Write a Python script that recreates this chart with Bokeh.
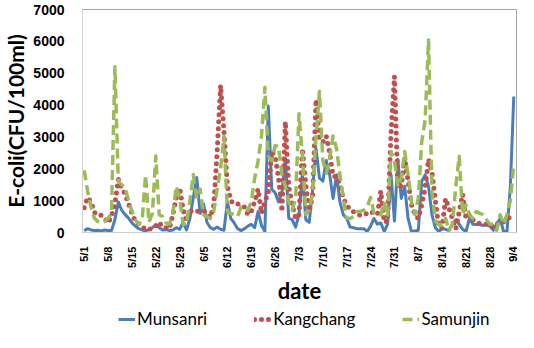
import numpy as np
from bokeh.plotting import figure
from bokeh.layouts import column
from bokeh.models import Range1d, Legend, LegendItem, FixedTicker
from bokeh.embed import file_html
from bokeh.resources import INLINE

# daily samples from 5/1 to 9/4 (day 0 = 5/1)
days = list(range(127))
tick_days = [0, 7, 14, 21, 28, 35, 42, 49, 56, 63, 70, 77, 84, 91, 98, 105, 112, 119, 126]
tick_labels = ["5/1", "5/8", "5/15", "5/22", "5/29", "6/5", "6/12", "6/19", "6/26", "7/3",
               "7/10", "7/17", "7/24", "7/31", "8/7", "8/14", "8/21", "8/28", "9/4"]
series_names = ["Munsanri", "Kangchang", "Samunjin"]

munsanri = [60, 120, 80, 60, 70, 50, 80, 60, 60, 400,
            960, 700, 560, 450, 300, 200, 120, 80, 50, 90,
            150, 250, 150, 80, 90, 60, 80, 150, 100, 320,
            80, 440, 1100, 1730, 600, 900, 320, 150, 100, 170,
            100, 70, 960, 440, 300, 120, 60, 120, 200, 260,
            150, 660, 220, 30, 3970, 1360, 1250, 960, 1260, 2340,
            450, 400, 170, 560, 1810, 400, 320, 1360, 2640, 1710,
            1610, 2260, 1810, 1070, 1810, 960, 560, 440, 170, 150,
            120, 120, 120, 30, 200, 440, 260, 300, 30, 260,
            1810, 360, 2300, 1070, 1450, 440, 30, 50, 70, 1610,
            1810, 1450, 560, 150, 30, 120, 100, 60, 260, 400,
            260, 100, 30, 440, 260, 250, 250, 220, 250, 200,
            70, 260, 440, 30, 30, 1450, 4270]

kangchang = [780, 1100, 960, 630, 540, 540, 440, 300, 500, 900,
             1670, 1400, 1200, 900, 600, 350, 260, 200, 90, 100,
             120, 200, 320, 170, 150, 120, 560, 1100, 1400, 730,
             360, 660, 700, 660, 680, 690, 600, 470, 860, 2540,
             4620, 3180, 1460, 1000, 900, 900, 850, 800, 560, 660,
             960, 1360, 600, 960, 1260, 2540, 2400, 1700, 660, 3480,
             1450, 870, 440, 560, 2640, 1500, 660, 1160, 4170, 2930,
             2840, 3030, 2500, 1760, 1760, 1520, 1070, 870, 710, 650,
             600, 530, 550, 600, 660, 600, 560, 1300, 320, 360,
             3130, 4900, 1450, 1450, 2340, 1610, 870, 560, 440, 870,
             1400, 2300, 1900, 1000, 170, 150, 1070, 760, 440, 120,
             660, 1200, 440, 560, 400, 320, 280, 260, 260, 260,
             170, 250, 360, 330, 400, 500, 560]

samunjin = [1950, 1300, 800, 450, 350, 300, 350, 450, 600, 5200,
            1600, 1500, 1400, 1000, 660, 400, 250, 400, 1800, 320,
            600, 2400, 560, 500, 300, 260, 600, 1450, 1070, 260,
            260, 1000, 1820, 1070, 1360, 560, 500, 440, 660, 1360,
            2000, 3030, 660, 600, 560, 500, 800, 750, 700, 960,
            1700, 2250, 3030, 4560, 2400, 2250, 2730, 2700, 1810, 1450,
            960, 710, 1070, 3730, 2440, 560, 700, 1260, 3030, 4430,
            2260, 1860, 2340, 3030, 2640, 1810, 1070, 440, 440, 500,
            660, 660, 700, 800, 1100, 600, 560, 560, 960, 500,
            2540, 2250, 1450, 1710, 2540, 1810, 960, 560, 1070, 2840,
            3530, 6040, 1260, 360, 250, 220, 440, 70, 260, 1450,
            2390, 560, 870, 560, 440, 660, 600, 560, 400, 260,
            260, 70, 560, 260, 560, 1000, 2150]

y_ticks = [0, 1000, 2000, 3000, 4000, 5000, 6000, 7000]

BLUE, RED, GREEN = "#4A7EBB", "#C0504D", "#9BBB59"
blue_style = dict(line_color=BLUE, line_width=3, line_join="round")
red_style = dict(line_color=RED, line_width=5, line_dash="0 7", line_cap="round", line_join="round")
green_style = dict(line_color=GREEN, line_width=3.5, line_dash="10 5", line_join="round")

p = figure(width=518, height=306, output_backend="svg", toolbar_location=None,
           x_range=Range1d(-0.5, 126.8), y_range=Range1d(0, 7000),
           min_border_left=71, min_border_right=2, min_border_top=9, min_border_bottom=70)

p.xgrid.grid_line_color = None
p.ygrid.grid_line_color = None
p.outline_line_color = "#a6a6a6"
p.background_fill_color = "white"
p.border_fill_color = "white"

p.line(days, munsanri, **blue_style)
p.line(days, kangchang, **red_style)
p.line(days, samunjin, **green_style)

xa = p.xaxis[0]
xa.ticker = FixedTicker(ticks=tick_days)
xa.major_label_overrides = {d: l for d, l in zip(tick_days, tick_labels)}
xa.major_label_orientation = np.pi / 2
xa.major_label_text_font = "Liberation Sans"
xa.major_label_text_font_style = "bold"
xa.major_label_text_font_size = "11px"
xa.major_label_text_color = "black"
xa.major_label_standoff = 8
xa.major_tick_line_color = None
xa.minor_tick_line_color = None
xa.axis_line_color = "#d0d0d0"
xa.axis_label = "date"
xa.axis_label_text_font = "Lato"
xa.axis_label_text_font_style = "bold"
xa.axis_label_text_font_size = "22px"
xa.axis_label_text_color = "black"
xa.axis_label_standoff = 6

ya = p.yaxis[0]
ya.ticker = FixedTicker(ticks=y_ticks)
ya.major_label_text_font = "Liberation Sans"
ya.major_label_text_font_style = "bold"
ya.major_label_text_font_size = "14px"
ya.major_label_text_color = "black"
ya.major_label_standoff = 12
ya.major_tick_line_color = None
ya.minor_tick_line_color = None
ya.axis_line_color = "#d0d0d0"
ya.axis_label = "E-coli(CFU/100ml)"
ya.axis_label_text_font = "Lato"
ya.axis_label_text_font_style = "bold"
ya.axis_label_text_font_size = "21px"
ya.axis_label_text_color = "black"
ya.axis_label_standoff = 2

# legend strip below the chart (series drawn outside its visible range; only the legend shows)
lg = figure(width=518, height=26, output_backend="svg", toolbar_location=None,
            x_range=Range1d(0, 1), y_range=Range1d(0, 1),
            min_border=0, min_border_left=0, min_border_right=0,
            min_border_top=0, min_border_bottom=0)
lg.xaxis.visible = False
lg.yaxis.visible = False
lg.xgrid.grid_line_color = None
lg.ygrid.grid_line_color = None
lg.outline_line_color = None
lg_b = lg.line(days, munsanri, **blue_style)
lg_r = lg.line(days, kangchang, **red_style)
lg_g = lg.line(days, samunjin, **green_style)

legend = Legend(items=[LegendItem(label=series_names[0], renderers=[lg_b]),
                       LegendItem(label=series_names[1], renderers=[lg_r]),
                       LegendItem(label=series_names[2], renderers=[lg_g])],
                location=(36, 3), orientation="horizontal", padding=0, margin=0,
                spacing=47, glyph_width=17, glyph_height=20, label_height=20,
                label_standoff=2,
                border_line_color=None, background_fill_alpha=0,
                label_text_font="Lato", label_text_font_size="17px",
                label_text_color="black")
lg.add_layout(legend)

layout = column(p, lg, spacing=0)
open("out.html", "w").write(file_html(layout, INLINE))
